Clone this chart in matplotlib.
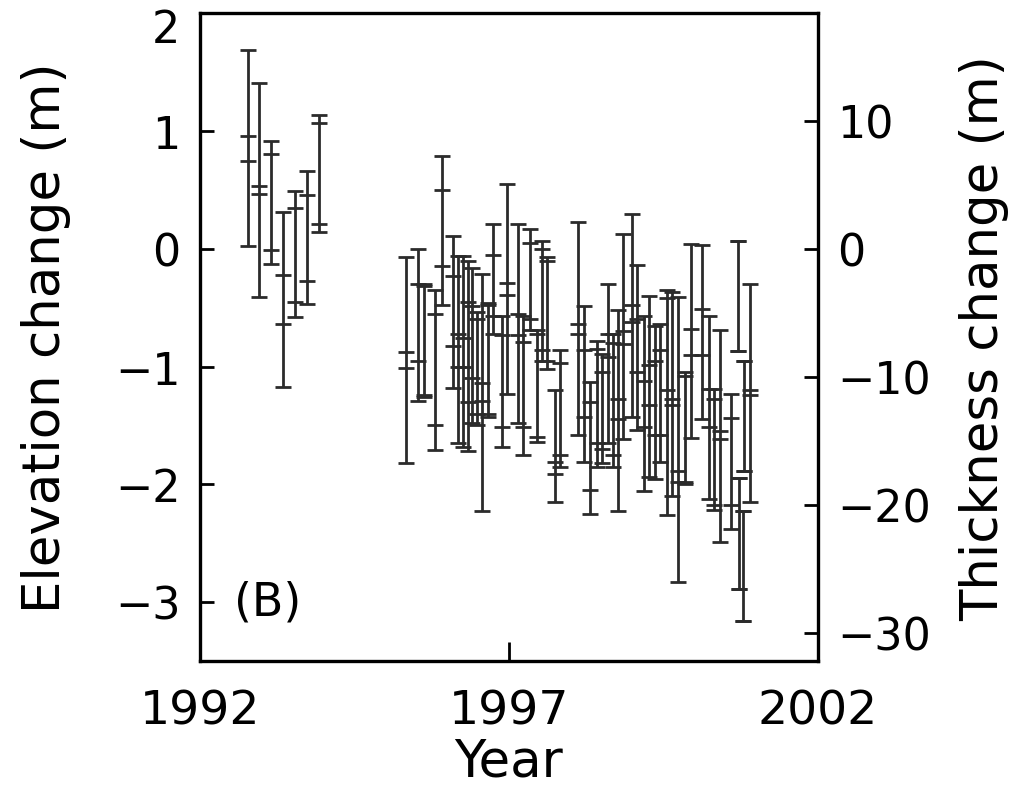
import numpy as np
import matplotlib
matplotlib.use('Agg')
import matplotlib.pyplot as plt
import matplotlib.transforms as mtransforms

# decimal year of each measurement
year = [1992.77, 1992.96, 1993.15, 1993.35, 1993.54, 1993.73, 1993.93,
        1995.33, 1995.52, 1995.63, 1995.81, 1995.92, 1996.10, 1996.18, 1996.26,
        1996.33, 1996.40, 1996.48, 1996.57, 1996.66, 1996.74, 1996.88, 1996.96,
        1997.15, 1997.23, 1997.34, 1997.45, 1997.53, 1997.62, 1997.74, 1997.83,
        1998.12, 1998.22, 1998.31, 1998.42, 1998.50, 1998.61, 1998.69, 1998.77,
        1998.85, 1998.99, 1999.07, 1999.18, 1999.27, 1999.36, 1999.44, 1999.55,
        1999.63, 1999.74, 1999.85, 1999.95, 2000.13, 2000.23, 2000.31, 2000.42,
        2000.60, 2000.70, 2000.72, 2000.79, 2000.81, 2000.90]
# outer bar ends (m)
top = [1.69, 1.41, 0.92, 0.31, 0.49, 0.66, 1.14,
       -0.07, 0.00, -0.30, -0.35, 0.79, 0.11, -0.06, -0.06,
       -0.10, -0.16, -0.54, -0.21, -0.46, 0.21, -0.57, 0.55,
       0.21, -0.57, 0.17, -0.69, 0.07, -0.07, -1.20, -0.86,
       0.23, -0.49, -1.13, -0.78, -0.89, -0.30, -0.72, -0.52,
       0.13, 0.30, -0.14, -0.57, -0.40, -0.66, -0.64, -0.35,
       -0.37, -0.41, -1.05, 0.04, 0.03, -0.57, -1.19, -0.69,
       -1.23, 0.07, -1.95, -2.23, -0.95, -0.30]
bottom = [0.02, -0.41, -0.13, -1.17, -0.58, -0.47, 0.14,
          -1.82, -1.29, -1.26, -1.71, -0.48, -1.18, -1.65, -1.68,
          -1.72, -1.48, -1.50, -2.23, -1.43, -0.72, -1.68, -1.23,
          -1.48, -1.75, -0.69, -1.64, -0.95, -1.02, -2.15, -1.85,
          -1.58, -1.81, -2.25, -1.85, -1.82, -1.65, -1.85, -2.23,
          -1.62, -1.43, -1.54, -2.06, -1.94, -1.96, -1.81, -2.26,
          -2.10, -2.83, -2.00, -1.61, -1.45, -2.13, -2.22, -2.49,
          -2.38, -0.87, -2.89, -3.16, -1.89, -2.15]
# inner marks (m)
upper = [0.96, 0.53, 0.81, -0.22, 0.35, 0.46, 1.07,
         -0.88, -0.30, -0.32, -0.55, 0.50, -0.23, -0.72, -0.76,
         -0.45, -0.49, -0.60, -1.14, -0.48, -0.05, -0.73, -0.29,
         -0.55, -0.79, 0.05, -0.72, 0.00, -0.10, -1.81, -0.97,
         -0.64, -0.86, -1.30, -0.85, -1.05, -0.72, -0.80, -1.28,
         -0.70, -0.48, -0.60, -1.12, -0.99, -0.95, -0.86, -0.42,
         -1.28, -1.89, -1.08, -0.68, -0.51, -1.19, -1.28, -1.55,
         -1.44, 0.07, -1.95, -2.23, -0.95, -1.20]
lower = [0.75, 0.47, -0.01, -0.64, -0.45, -0.27, 0.21,
         -1.01, -0.95, -1.24, -1.50, -0.15, -0.83, -1.00, -1.00,
         -1.30, -1.10, -1.40, -1.29, -1.40, -0.57, -1.51, -0.39,
         -0.73, -1.51, -0.60, -1.60, -0.86, -0.95, -1.91, -1.75,
         -0.72, -1.43, -2.05, -1.65, -1.70, -0.92, -1.75, -1.45,
         -0.81, -0.62, -1.05, -1.51, -1.33, -1.58, -1.58, -1.20,
         -1.33, -1.98, -1.98, -0.90, -0.90, -1.51, -2.18, -1.62,
         -2.18, -0.87, -2.89, -3.16, -1.89, -1.24]

ratio = 9.2  # thickness / elevation

year = np.array(year)
top = np.array(top)
bottom = np.array(bottom)
mid = (top + bottom) / 2

fig = plt.figure(figsize=(10.18, 8.04), dpi=100)
ax = fig.add_axes([0.1965, 0.177, 0.607, 0.805])
col = '#2b2b2b'
ax.errorbar(year, mid, yerr=[mid - bottom, top - mid], fmt='none',
            ecolor=col, elinewidth=2.0, capsize=5.5, capthick=2.0)
ax.plot(year, upper, ls='none', marker='_', ms=11, mew=2.0, color=col)
ax.plot(year, lower, ls='none', marker='_', ms=11, mew=2.0, color=col)

ax.set_xlim(1992, 2002)
ax.set_ylim(-3.5, 2.0)
ax.set_xticks([1992, 1997, 2002])
ax.set_yticks([-3, -2, -1, 0, 1, 2])
ax.set_yticklabels(['\u22123', '\u22122', '\u22121', '0', '1', '2'])
ax.tick_params(axis='x', direction='in', length=14, width=2, labelsize=34, pad=20)
ax.tick_params(axis='y', direction='in', length=10, width=2, labelsize=32, pad=14)
for s in ax.spines.values():
    s.set_linewidth(2.4)
ax.set_xlabel('Year', fontsize=37, labelpad=2)
ax.set_ylabel('Elevation change (m)', fontsize=37, labelpad=32)
ax.text(1992.55, -3.0, '(B)', fontsize=33, va='center', ha='left')

# top label sits against the figure edge: nudge it down a little
off = mtransforms.ScaledTranslation(0, -8 / 72, fig.dpi_scale_trans)
lab = ax.get_yticklabels()[-1]
lab.set_transform(lab.get_transform() + off)

ax2 = ax.twinx()
ax2.set_ylim(-3.5 * ratio, 2.0 * ratio)
ax2.set_yticks([-30, -20, -10, 0, 10])
ax2.set_yticklabels(['\u221230', '\u221220', '\u221210', '0', '10'])
ax2.tick_params(axis='y', direction='in', length=10, width=2, labelsize=32, pad=14)
ax2.set_ylabel('Thickness change (m)', fontsize=37, labelpad=20)

fig.savefig('out.png', dpi=100)
